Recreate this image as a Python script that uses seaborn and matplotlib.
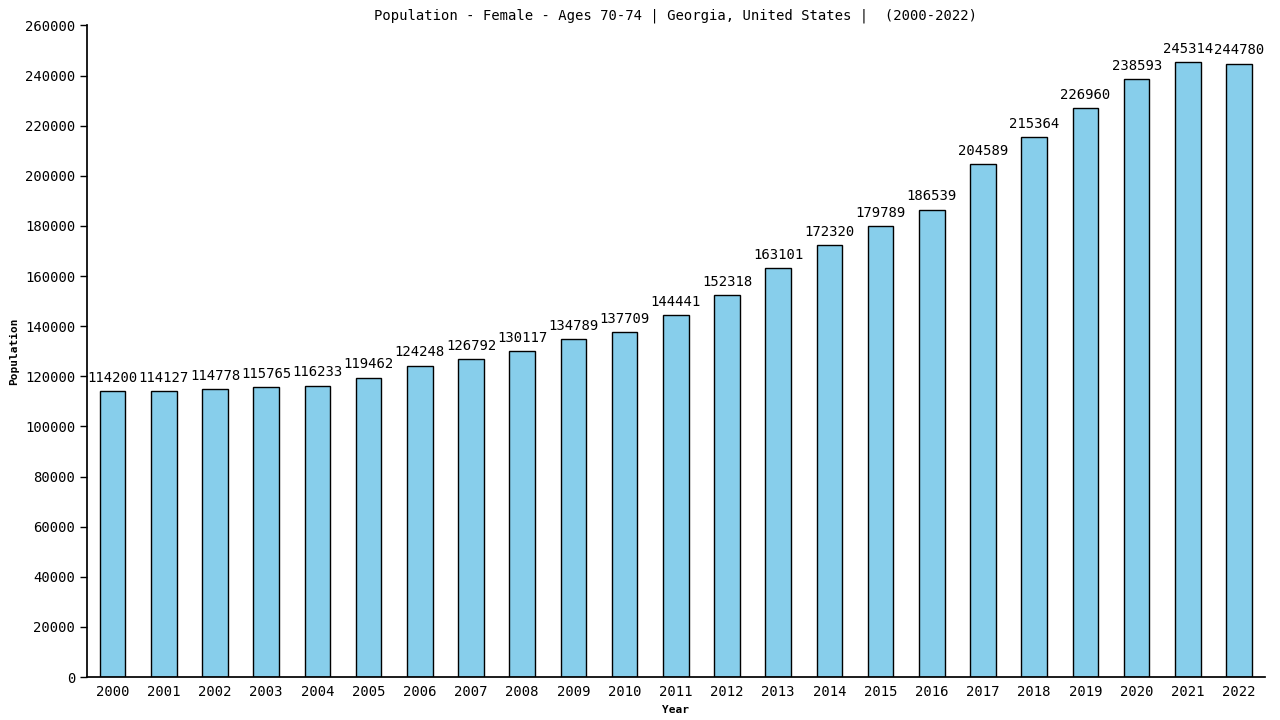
import matplotlib
matplotlib.use("Agg")
import matplotlib.pyplot as plt
import pandas as pd
import seaborn as sns

years = [str(y) for y in range(2000, 2023)]
population = [
    114200, 114127, 114778, 115765, 116233, 119462, 124248, 126792,
    130117, 134789, 137709, 144441, 152318, 163101, 172320, 179789,
    186539, 204589, 215364, 226960, 238593, 245314, 244780,
]
title = "Population - Female - Ages 70-74 | Georgia, United States |  (2000-2022)"

sns.set_theme(style="white")
plt.rcParams["font.family"] = ["DejaVu Sans Mono", "DejaVu Sans"]
plt.rcParams["text.color"] = "black"
plt.rcParams["axes.labelcolor"] = "black"
plt.rcParams["xtick.color"] = "black"
plt.rcParams["ytick.color"] = "black"

df = pd.DataFrame({"Year": years, "Population": population})

fig = plt.figure(figsize=(12.8, 7.2), dpi=100)
ax = fig.add_axes([0.068, 0.0597, 0.92, 0.905])
sns.barplot(
    data=df, x="Year", y="Population", color="#87ceeb", saturation=1,
    width=0.5, edgecolor="black", linewidth=1, ax=ax,
)

# value labels above each bar
for i, v in enumerate(population):
    ax.text(i, v + 2500, str(v), ha="center", va="bottom", fontsize=10, color="black")

ax.set_xlim(-0.5, len(years) - 0.5)
ax.set_ylim(0, 260000)
ax.set_yticks(range(0, 260001, 20000))
ax.tick_params(axis="y", length=5, width=1, labelsize=10, direction="out", left=True)
ax.tick_params(axis="x", length=0, labelsize=10, pad=6)
sns.despine(ax=ax, top=True, right=True)
ax.spines["left"].set_color("black")
ax.spines["bottom"].set_color("black")
ax.set_xlabel("Year", fontsize=8, fontweight="bold")
ax.set_ylabel("Population", fontsize=8, fontweight="bold")
ax.set_title(title, fontsize=10, pad=4, color="black")

fig.savefig("out.png", dpi=100)
